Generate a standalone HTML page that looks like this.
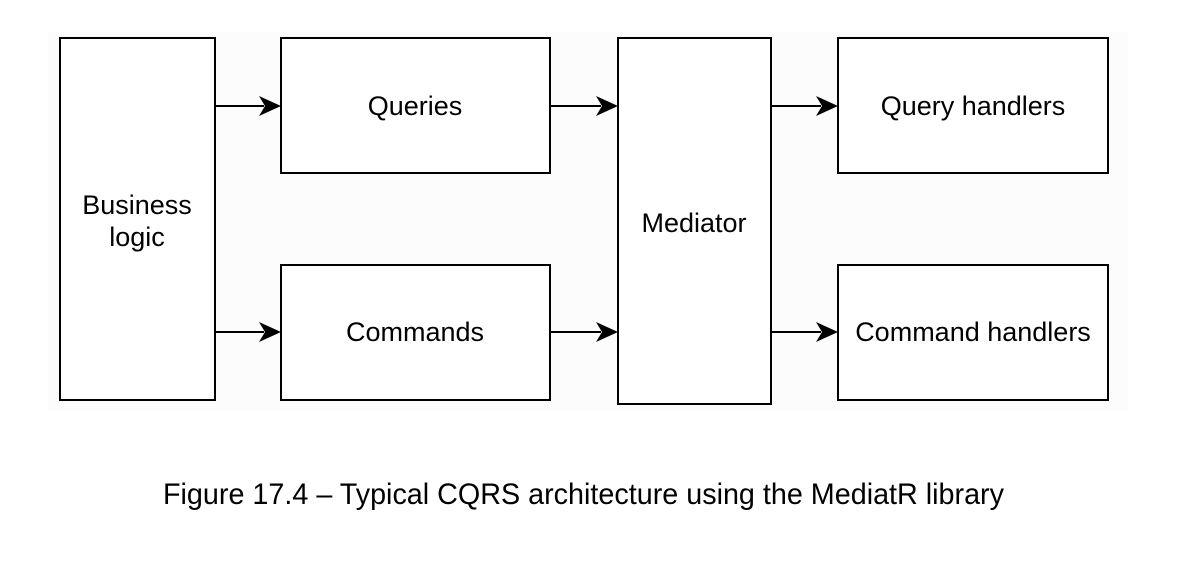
<!DOCTYPE html>
<html><head><meta charset="utf-8"><style>
html,body{margin:0;padding:0;background:#fff;}
svg{display:block;}
</style></head><body>
<svg width="1182" height="588" viewBox="0 0 1182 588" xmlns="http://www.w3.org/2000/svg">
<rect x="48" y="32" width="1080" height="378" fill="#fcfcfc"/>
<g fill="#fff" stroke="#000" stroke-width="2">
<rect x="60" y="38" width="155" height="362"/>
<rect x="281" y="38" width="269" height="135"/>
<rect x="281" y="265" width="269" height="135"/>
<rect x="618" y="38" width="153" height="366"/>
<rect x="838" y="38" width="270" height="135"/>
<rect x="838" y="265" width="270" height="135"/>
</g>
<g stroke="#000" stroke-width="2">
<line x1="215" y1="106" x2="264" y2="106"/><line x1="215" y1="332" x2="264" y2="332"/>
<line x1="550" y1="106" x2="601" y2="106"/><line x1="550" y1="332" x2="601" y2="332"/>
<line x1="771" y1="106" x2="821" y2="106"/><line x1="771" y1="332" x2="821" y2="332"/>
</g>
<g fill="#000">
<path d="M259,96 L281,106 L259,116 L265,106 Z"/><path d="M259,322 L281,332 L259,342 L265,332 Z"/>
<path d="M596,96 L618,106 L596,116 L602,106 Z"/><path d="M596,322 L618,332 L596,342 L602,332 Z"/>
<path d="M816,96 L838,106 L816,116 L822,106 Z"/><path d="M816,322 L838,332 L816,342 L822,332 Z"/>
</g>
<g font-family="Liberation Sans, sans-serif" font-size="27" text-anchor="middle" fill="#000">
<text x="137" y="214">Business</text>
<text x="137" y="246">logic</text>
<text x="415" y="115">Queries</text>
<text x="415" y="341">Commands</text>
<text x="694" y="232">Mediator</text>
<text x="973" y="115">Query handlers</text>
<text x="973" y="341">Command handlers</text>
</g>
<text x="163" y="504" font-family="Liberation Sans, sans-serif" font-size="30" textLength="841" lengthAdjust="spacingAndGlyphs" fill="#000">Figure 17.4 – Typical CQRS architecture using the MediatR library</text>
</svg>
</body></html>
